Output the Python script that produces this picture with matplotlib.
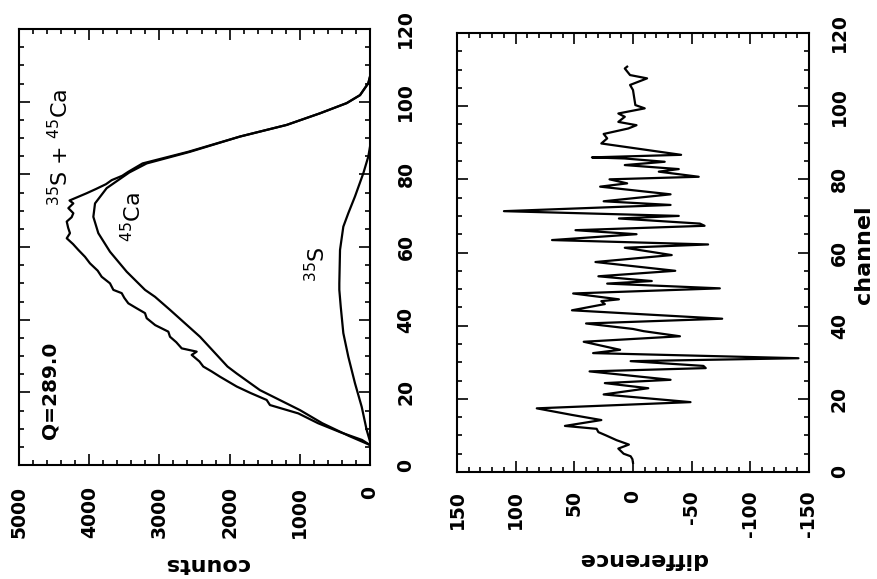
import matplotlib

matplotlib.use("Agg")

import matplotlib.pyplot as plt
from matplotlib.ticker import MultipleLocator

plt.rcParams["font.family"] = ["DejaVu Sans"]
plt.rcParams["axes.unicode_minus"] = False

# upper panel (drawn rotated): channel vs counts
total_channel = [5.5, 6.9, 9.0, 11.5, 14.2, 16.5, 17.9, 19.8, 21.6, 24.3, 25.8, 27.1,
                 28.5, 30.3, 31.2, 32.1, 33.8, 35.3, 36.7, 38.5, 40.4, 41.8, 43.2, 44.5,
                 46.0, 47.3, 48.2, 50.0, 51.8, 53.5, 55.5, 57.3, 59.2, 60.8, 62.4, 63.8,
                 65.3, 67.0, 68.2, 69.3, 70.7, 72.0, 72.8, 74.8, 76.0, 77.3, 78.4, 79.6,
                 80.7, 83.0, 86.2, 90.4, 93.6, 96.8, 99.6, 101.8, 105.1, 106.9]
total_counts = [0, 114, 420, 740, 1021, 1425, 1472, 1700, 1899, 2137, 2260, 2375,
                2430, 2540, 2469, 2682, 2760, 2849, 2873, 3060, 3181, 3205, 3330, 3443,
                3500, 3537, 3656, 3704, 3822, 3880, 3989, 4060, 4155, 4230, 4320, 4274,
                4300, 4320, 4250, 4226, 4297, 4226, 4280, 4036, 3900, 3760, 3680, 3530,
                3443, 3240, 2590, 1852, 1187, 712, 332, 142, 24, 0]

ca_channel = [5.5, 8.0, 11.5, 15.1, 20.6, 25.2, 27.1, 35.3, 42.7, 46.3, 48.2, 53.2,
              58.7, 63.8, 68.3, 72.0, 76.2, 80.5, 83.0, 86.2, 90.4, 93.6, 96.8, 99.6,
              101.8, 105.1, 106.9]
ca_counts = [0, 300, 680, 997, 1567, 1900, 2030, 2422, 2849, 3063, 3205, 3466,
             3704, 3870, 3941, 3917, 3751, 3430, 3181, 2564, 1852, 1187, 712, 332,
             142, 24, 0]

s_channel = [6.5, 9.6, 16.0, 22.5, 29.8, 36.3, 43.6, 48.2, 50.0, 59.2, 65.6, 69.3,
             73.9, 80.3, 84.9, 87.6]
s_counts = [0, 47, 118, 214, 309, 380, 417, 437, 437, 427, 380, 309,
            214, 95, 24, 0]

# lower panel: difference
diff_channel = [2.5, 3.5, 4.3, 5.0, 6.4, 7.5, 8.7, 10.0, 10.9, 11.8, 12.6, 14.2,
                15.6, 17.4, 19.1, 21.2, 22.9, 24.3, 25.2, 27.5, 28.4, 29.0, 30.3, 31.1,
                32.5, 33.4, 35.6, 37.1, 38.5, 39.1, 40.6, 41.9, 44.2, 45.9, 46.7, 47.2,
                48.8, 50.2, 51.5, 52.2, 52.7, 53.5, 55.0, 57.4, 59.3, 61.3, 62.2, 63.4,
                65.0, 66.1, 67.3, 67.9, 69.3, 70.0, 71.3, 73.0, 74.0, 75.9, 78.0, 78.9,
                80.0, 80.7, 82.1, 82.8, 83.9, 84.8, 85.7, 86.0, 86.7, 89.8, 91.2, 92.4,
                93.9, 94.8, 95.7, 97.1, 98.0, 99.4, 100.3, 104.4, 105.8, 107.6, 108.5,
                110.3, 110.8]
diff_values = [0, 0.5, 2, 8, 12.5, 3.5, 14, 23, 29.5, 31, 58, 27,
               52, 82, -49, 25, -13, 24, -32, 37, -62, -60, 2, -141,
               34, 11, 42, -40, -9, 0, 40, -76, 52, 24, 27, 12,
               51, -74, 22, -16, 2, 29.5, -36, 32, -33, 7, -64, 69,
               -3, 49, -61, -57, 12, -39, 110, -32, 25, -32, 28, 5,
               20, -56, -22, -39, 7, -27, 7, 35, -41, 27, 22, 25,
               4, -3, 12.5, 7, 12.5, -10, -2, 0, 2.5, -12, 2.5,
               7, 5]

counts_ticks = [5000, 4000, 3000, 2000, 1000, 0]
diff_ticks = [150, 100, 50, 0, -50, -100, -150]
channel_ticks = [0, 20, 40, 60, 80, 100, 120]

W, H = 878, 579
fig = plt.figure(figsize=(W / 100, H / 100), dpi=100)
fig.patch.set_facecolor("white")


def frac(x0, y0, x1, y1):
    return [x0 / W, 1 - y1 / H, (x1 - x0) / W, (y1 - y0) / H]


def style(ax, minor_x, label_pad_x, label_pad_y):
    ax.set_ylim(0, 120)
    ax.yaxis.set_major_locator(MultipleLocator(20))
    ax.yaxis.set_minor_locator(MultipleLocator(5))
    ax.xaxis.set_minor_locator(MultipleLocator(minor_x))
    for s in ax.spines.values():
        s.set_linewidth(1.5)
    ax.tick_params(which="both", direction="in", top=True, bottom=True,
                   left=True, right=True, labelleft=False, labelright=True,
                   width=1.2)
    ax.tick_params(which="major", length=8)
    ax.tick_params(which="minor", length=3.5)
    ax.tick_params(axis="x", labelsize=13.5, pad=label_pad_x, labelrotation=90)
    ax.tick_params(axis="y", labelsize=13.5, pad=label_pad_y, labelrotation=90)
    for t in ax.get_xticklabels() + ax.get_yticklabels():
        t.set_fontweight("bold")
    for t in ax.get_yticklabels():
        t.set_verticalalignment("center")


# left panel
ax1 = fig.add_axes(frac(19, 29, 370, 465))
ax1.plot(total_counts, total_channel, color="black", lw=1.6)
ax1.plot(ca_counts, ca_channel, color="black", lw=1.6)
ax1.plot(s_counts, s_channel, color="black", lw=1.6)
ax1.set_xlim(5000, 0)
ax1.set_xticks(counts_ticks)
ax1.set_yticks(channel_ticks)
style(ax1, 200, 15, 19)
ax1.set_xlabel("counts", rotation=180, fontsize=16, fontweight="bold")
ax1.xaxis.set_label_coords(0.536, -0.203)

ax1.text(4558, 20.6, "Q=289.0", rotation=90, fontsize=14.5, fontweight="bold",
         ha="center", va="center")
ax1.text(4415, 87.3, r"$^{35}$S + $^{45}$Ca", rotation=90, fontsize=16,
         ha="center", va="center")
ax1.text(3376, 68.3, r"$^{45}$Ca", rotation=90, fontsize=16,
         ha="center", va="center")
ax1.text(755, 55.3, r"$^{35}$S", rotation=90, fontsize=16,
         ha="center", va="center")

# right panel
ax2 = fig.add_axes(frac(457, 33, 809, 472))
ax2.plot(diff_values, diff_channel, color="black", lw=1.6)
ax2.set_xlim(150, -150)
ax2.set_xticks(diff_ticks)
ax2.set_yticks(channel_ticks)
style(ax2, 10, 13, 15)
ax2.set_xlabel("difference", rotation=180, fontsize=16, fontweight="bold")
ax2.xaxis.set_label_coords(0.528, -0.176)
ax2.yaxis.set_label_position("right")
ax2.set_ylabel("channel", rotation=90, fontsize=16, fontweight="bold")
ax2.yaxis.set_label_coords(1.128, 0.494)

fig.savefig("out.png", dpi=100, facecolor="white")
